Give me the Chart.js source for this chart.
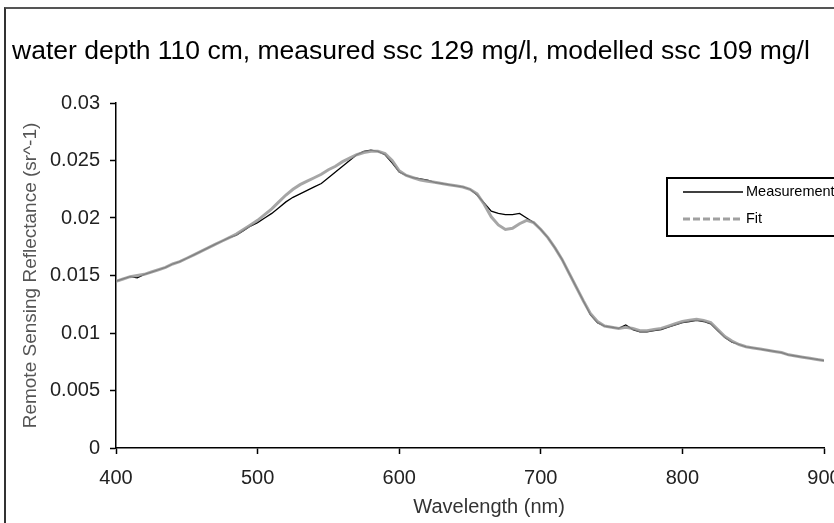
<!DOCTYPE html>
<html><head><meta charset="utf-8">
<script src="https://cdn.jsdelivr.net/npm/chart.js@4/dist/chart.umd.min.js"></script>
<style>
html,body{margin:0;padding:0;background:#fff;}
#wrap{position:relative;width:834px;height:523px;overflow:hidden;}
#frame{position:absolute;left:4px;top:7px;width:900px;height:600px;border-top:2px solid #555;border-left:2px solid #333;pointer-events:none;}
canvas{position:absolute;left:0;top:0;}
</style></head><body>
<div id="wrap"><canvas id="c" width="834" height="523"></canvas><div id="frame"></div></div>
<script>
const titleText = "water depth 110 cm, measured ssc 129 mg/l, modelled ssc 109 mg/l";
const xAxisTitle = "Wavelength (nm)";
const yAxisTitle = "Remote Sensing Reflectance (sr^-1)";
const seriesNames = ["Measurement", "Fit"];
const xTickValues = [400, 500, 600, 700, 800, 900];
const xTickLabels = ["400", "500", "600", "700", "800", "900"];
const yTickValues = [0, 0.005, 0.01, 0.015, 0.02, 0.025, 0.03];
const yTickLabels = ["0", "0.005", "0.01", "0.015", "0.02", "0.025", "0.03"];

const wavelengths = [
 400,405,410,415,420,425,430,435,440,445,
 450,455,460,465,470,475,480,485,490,495,
 500,505,510,515,520,525,530,535,540,545,
 550,555,560,565,570,575,580,585,590,595,
 600,605,610,615,620,625,630,635,640,645,
 650,655,660,665,670,675,680,685,690,695,
 700,705,710,715,720,725,730,735,740,745,
 750,755,760,765,770,775,780,785,790,795,
 800,805,810,815,820,825,830,835,840,845,
 850,855,860,865,870,875,880,885,890,895,
 900];
const measurement = [
 0.0145,0.0147,0.0149,0.0148,0.0151,0.0153,0.0155,0.0157,0.0160,0.0162,
 0.0165,0.0168,0.0171,0.0174,0.0177,0.0180,0.0183,0.0185,0.0189,0.0193,
 0.0196,0.0200,0.0204,0.0209,0.0214,0.0218,0.0221,0.0224,0.0227,0.0230,
 0.0235,0.0240,0.0245,0.0250,0.0255,0.0258,0.0259,0.0258,0.0255,0.0248,
 0.0240,0.0237,0.0235,0.0234,0.0233,0.0231,0.0230,0.0229,0.0228,0.0227,
 0.0225,0.0220,0.0213,0.0206,0.0204,0.0203,0.0203,0.0204,0.0200,0.0196,
 0.0190,0.0183,0.0174,0.0164,0.0152,0.0140,0.0128,0.0116,0.0109,0.0106,
 0.0105,0.0104,0.0107,0.0103,0.0101,0.0101,0.0102,0.0103,0.0105,0.0107,
 0.0109,0.0110,0.0111,0.0110,0.0108,0.0102,0.0096,0.0092,0.0090,0.0088,
 0.0087,0.0086,0.0085,0.0084,0.0083,0.0081,0.0080,0.0079,0.0078,0.0077,
 0.0076];
const fit = [
 0.0145,0.0147,0.0149,0.0150,0.0151,0.0153,0.0155,0.0157,0.0160,0.0162,
 0.0165,0.0168,0.0171,0.0174,0.0177,0.0180,0.0183,0.0186,0.0190,0.0194,
 0.0198,0.0203,0.0208,0.0214,0.0220,0.0225,0.0229,0.0232,0.0235,0.0238,
 0.0242,0.0245,0.0249,0.0252,0.0255,0.0257,0.0258,0.0258,0.0256,0.0250,
 0.0241,0.0237,0.0235,0.0233,0.0232,0.0231,0.0230,0.0229,0.0228,0.0227,
 0.0225,0.0221,0.0212,0.0201,0.0194,0.0190,0.0191,0.0195,0.0198,0.0196,
 0.0190,0.0183,0.0174,0.0164,0.0152,0.0140,0.0128,0.0117,0.0110,0.0106,
 0.0105,0.0104,0.0105,0.0104,0.0102,0.0102,0.0103,0.0104,0.0106,0.0108,
 0.0110,0.0111,0.0112,0.0111,0.0109,0.0103,0.0097,0.0093,0.0090,0.0088,
 0.0087,0.0086,0.0085,0.0084,0.0083,0.0081,0.0080,0.0079,0.0078,0.0077,
 0.0076];

const FONT = '"Liberation Sans", Arial, sans-serif';
const toPoints = arr => wavelengths.map((w, i) => ({x: w, y: arr[i]}));
const labelFor = (vals, labels) => v => {
  const i = vals.findIndex(t => Math.abs(t - v) < 1e-9);
  return i >= 0 ? labels[i] : '';
};

const decorPlugin = {
  id: 'decor',
  afterDraw(chart) {
    const ctx = chart.ctx, ca = chart.chartArea;
    ctx.save();
    // title
    ctx.font = '26.5px ' + FONT;
    ctx.fillStyle = '#000';
    ctx.textBaseline = 'alphabetic';
    ctx.textAlign = 'left';
    ctx.fillText(titleText, 12, 59);
    // x-axis title (sits a little right of the axis centre, as in the original)
    ctx.font = '20px ' + FONT;
    ctx.fillStyle = '#333';
    ctx.textAlign = 'center';
    ctx.textBaseline = 'middle';
    ctx.fillText(xAxisTitle, ca.left + ca.width * 0.527, ca.bottom + 59);
    // legend
    ctx.textAlign = 'left';
    const lx = ca.right - 157, ly = ca.top + 75, lw = 200, lh = 58;
    ctx.fillStyle = '#fff';
    ctx.fillRect(lx, ly, lw, lh);
    ctx.strokeStyle = '#000';
    ctx.lineWidth = 2;
    ctx.strokeRect(lx, ly, lw, lh);
    const r1 = ly + 14, r2 = ly + 41;
    ctx.beginPath(); ctx.moveTo(lx + 16, r1); ctx.lineTo(lx + 76, r1);
    ctx.strokeStyle = '#000'; ctx.lineWidth = 1.5; ctx.stroke();
    ctx.beginPath(); ctx.setLineDash([7, 3]); ctx.moveTo(lx + 16, r2); ctx.lineTo(lx + 76, r2);
    ctx.strokeStyle = '#a0a0a0'; ctx.lineWidth = 3; ctx.stroke();
    ctx.setLineDash([]);
    ctx.font = '14.5px ' + FONT;
    ctx.fillStyle = '#000';
    ctx.textBaseline = 'middle';
    ctx.fillText(seriesNames[0], lx + 79, r1);
    ctx.fillText(seriesNames[1], lx + 79, r2);
    ctx.restore();
  }
};

new Chart(document.getElementById('c'), {
  type: 'line',
  data: {
    datasets: [
      {label: seriesNames[0], data: toPoints(measurement), borderColor: '#000', borderWidth: 1.3, pointRadius: 0, tension: 0, order: 2},
      {label: seriesNames[1], data: toPoints(fit), borderColor: 'rgba(150,150,150,0.85)', borderWidth: 3, pointRadius: 0, tension: 0, order: 1}
    ]
  },
  options: {
    responsive: false,
    animation: false,
    events: [],
    layout: {padding: {left: 0, top: 103, right: 10, bottom: 0}},
    plugins: {legend: {display: false}, tooltip: {enabled: false}, title: {display: false}},
    scales: {
      x: {
        type: 'linear', min: 400, max: 900,
        afterBuildTicks: s => { s.ticks = xTickValues.map(v => ({value: v})); },
        afterFit: s => { s.height = 75; s.paddingLeft = 0; s.paddingRight = 0; },
        ticks: {autoSkip: false, maxRotation: 0, padding: 12, color: '#222', font: {family: FONT, size: 20}, callback: labelFor(xTickValues, xTickLabels)},
        grid: {drawOnChartArea: false, drawTicks: true, tickLength: 6, tickColor: '#000', tickWidth: 1.5},
        border: {color: '#000', width: 1.5},
        title: {display: false}
      },
      y: {
        type: 'linear', min: 0, max: 0.03,
        afterBuildTicks: s => { s.ticks = yTickValues.map(v => ({value: v})); },
        afterFit: s => { s.width = 116; s.paddingTop = 0; s.paddingBottom = 0; },
        ticks: {autoSkip: false, padding: 10, color: '#222', font: {family: FONT, size: 20}, callback: labelFor(yTickValues, yTickLabels)},
        grid: {drawOnChartArea: false, drawTicks: true, tickLength: 6, tickColor: '#000', tickWidth: 1.5},
        border: {color: '#000', width: 1.5},
        title: {display: true, text: yAxisTitle, color: '#555', font: {family: FONT, size: 19}, padding: {top: 19, bottom: 0}}
      }
    }
  },
  plugins: [decorPlugin]
});
</script>
</body></html>
